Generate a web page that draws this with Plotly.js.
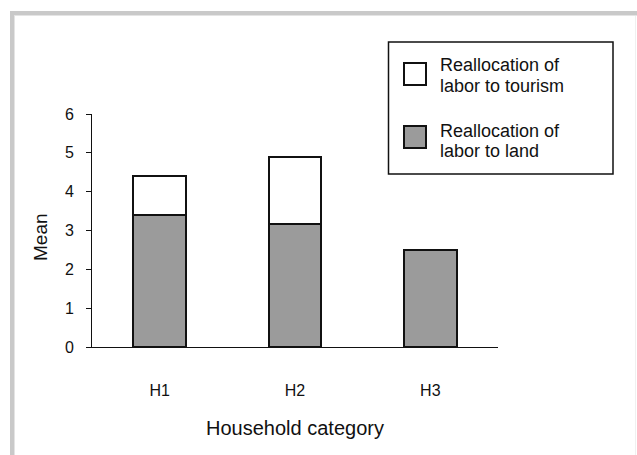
<!DOCTYPE html>
<html>
<head>
<meta charset="utf-8">
<script src="https://cdn.plot.ly/plotly-3.0.1.min.js"></script>
<style>html,body{margin:0;padding:0;background:#fff;}#chart{width:637px;height:455px;}</style>
</head>
<body>
<div id="chart"></div>
<script>
// ---- data ----
const categories = ["H1", "H2", "H3"];
const landValues = [3.4, 3.17, 2.5];
const tourismValues = [1.0, 1.73, 0];
const seriesNames = ["Reallocation of labor to land", "Reallocation of labor to tourism"];
const legendLines = [["Reallocation of", "labor to tourism"], ["Reallocation of", "labor to land"]];
const yTickValues = [0, 1, 2, 3, 4, 5, 6];
const xTitle = "Household category";
const yTitle = "Mean";

// ---- layout helpers (pixel -> paper) ----
const W = 637, H = 455;
const M = {l: 92, r: 139, t: 114, b: 108};
const PW = W - M.l - M.r, PH = H - M.t - M.b;
const px = x => (x - M.l) / PW;
const py = y => (H - M.b - y) / PH;

const FONT = "Liberation Sans, Arial, Helvetica, sans-serif";
const GRAY = "#9b9b9b";

const traces = [
  {type: "bar", name: seriesNames[0], x: categories, y: landValues, width: 0.39,
   marker: {color: GRAY, line: {color: "#111", width: 2}}, hoverinfo: "x+y+name"},
  {type: "bar", name: seriesNames[1], x: categories, y: tourismValues, width: 0.39,
   marker: {color: "#ffffff", line: {color: "#111", width: 2}}, hoverinfo: "x+y+name"}
];

const shapes = [
  // page frame
  {type: "rect", xref: "paper", yref: "paper", x0: px(10), x1: px(14), y0: py(455), y1: py(11), fillcolor: "#c9c9c9", line: {width: 0}, layer: "below"},
  {type: "rect", xref: "paper", yref: "paper", x0: px(10), x1: px(637), y0: py(15), y1: py(11), fillcolor: "#c9c9c9", line: {width: 0}, layer: "below"},
  {type: "rect", xref: "paper", yref: "paper", x0: px(14), x1: px(15), y0: py(455), y1: py(15), fillcolor: "#e4e4e4", line: {width: 0}, layer: "below"},
  {type: "rect", xref: "paper", yref: "paper", x0: px(14), x1: px(637), y0: py(16), y1: py(15), fillcolor: "#e4e4e4", line: {width: 0}, layer: "below"},
  {type: "rect", xref: "paper", yref: "paper", x0: px(635), x1: px(636), y0: py(455), y1: py(16), fillcolor: "#f0f0f0", line: {width: 0}, layer: "below"},
  // legend box
  {type: "rect", xref: "paper", yref: "paper", x0: px(388.5), x1: px(613), y0: py(174), y1: py(42), fillcolor: "#fff", line: {color: "#111", width: 1.5}},
  // legend swatches
  {type: "rect", xref: "paper", yref: "paper", x0: px(404), x1: px(426), y0: py(85), y1: py(63), fillcolor: "#fff", line: {color: "#111", width: 2}},
  {type: "rect", xref: "paper", yref: "paper", x0: px(404), x1: px(426), y0: py(148), y1: py(126), fillcolor: GRAY, line: {color: "#111", width: 2}}
];

const lineCenters = [[65.5, 85.5], [130.5, 150.5]];
const annotations = [];
legendLines.forEach((lines, i) => {
  lines.forEach((t, j) => {
    annotations.push({xref: "paper", yref: "paper", x: px(437.5), y: py(lineCenters[i][j]), xanchor: "left", yanchor: "middle",
      text: t, showarrow: false, font: {family: FONT, size: 18, color: "#111"}});
  });
});
// y axis title placed as rotated annotation
annotations.push({xref: "paper", yref: "paper", x: px(40), y: py(237), xanchor: "center", yanchor: "middle",
  text: yTitle, textangle: -90, showarrow: false, font: {family: FONT, size: 19, color: "#111"}});

const layout = {
  width: W, height: H,
  margin: M,
  paper_bgcolor: "#fff", plot_bgcolor: "rgba(0,0,0,0)",
  barmode: "stack",
  showlegend: false,
  font: {family: FONT, color: "#111"},
  xaxis: {
    type: "category", range: [-0.5, 2.5], showline: true, linecolor: "#111", linewidth: 1.3,
    ticks: "", showgrid: false, zeroline: false, fixedrange: true,
    tickfont: {family: FONT, size: 16, color: "#111"}, ticklabelstandoff: 28,
    title: {text: xTitle, font: {family: FONT, size: 20, color: "#111"}, standoff: 23}
  },
  yaxis: {
    range: [0, 6], tickvals: yTickValues, showline: true, linecolor: "#111", linewidth: 1,
    ticks: "outside", ticklen: 5, tickwidth: 1, tickcolor: "#111", showgrid: false, zeroline: false, fixedrange: true,
    tickfont: {family: FONT, size: 16, color: "#111"}, ticklabelstandoff: 9
  },
  shapes: shapes,
  annotations: annotations
};

Plotly.newPlot("chart", traces, layout, {displayModeBar: false, staticPlot: true});
</script>
</body>
</html>
